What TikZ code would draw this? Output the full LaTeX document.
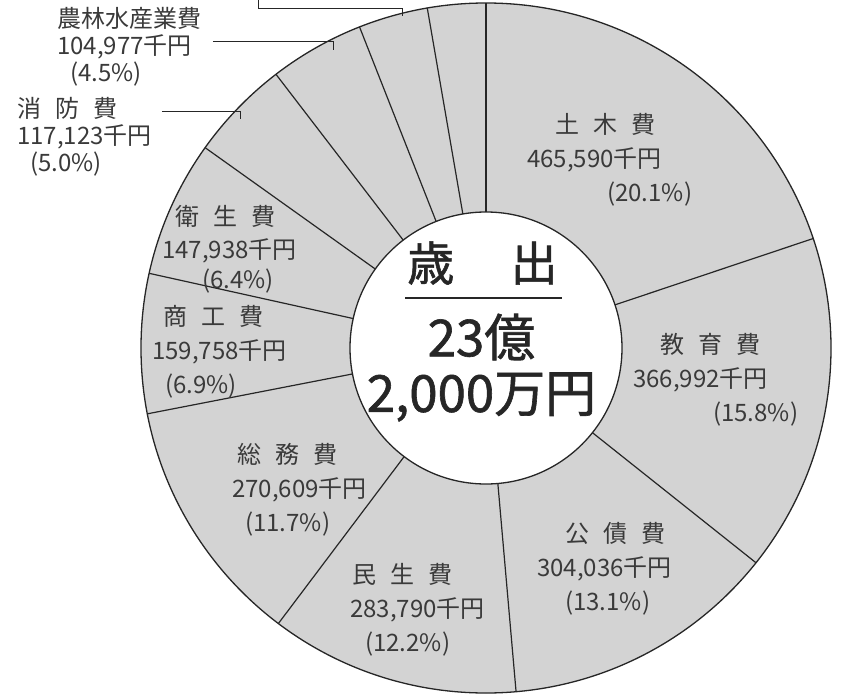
\documentclass[tikz,border=0pt]{standalone}
\usepackage{fontspec}
\setmainfont{Noto Sans CJK JP}[WordSpace=2.6]
\newfontfamily\centerfont{Noto Sans CJK JP}[FakeBold=1.2]
\definecolor{ringfill}{RGB}{211,211,211}
\definecolor{labelink}{RGB}{58,58,58}
\begin{document}
\begin{tikzpicture}[x=1pt,y=1pt,
  slicetext/.style={anchor=north west,inner sep=0pt,align=left,text=labelink,font=\fontsize{24}{34}\selectfont},
  sidetext/.style={slicetext,font=\fontsize{24}{27}\selectfont},
  bigtext/.style={inner sep=0pt,text=black!85,font=\centerfont\fontsize{51}{51}\selectfont},
  leader/.style={line width=1pt,black!85}]

\useasboundingbox (-486,-348) rectangle (372,348);

\fill[ringfill] (0,0) circle (345pt);
\fill[white] (0,0) circle (136pt);
\foreach \a in {90,18.5,-38.5,-85,-127,-169,167.5,144.5,127.5,111.5,99.8}
  \draw[line width=1.2pt,black!85] (\a:136pt) -- (\a:345pt);
\draw[line width=1.3pt,black!85] (0,0) circle (345pt);
\draw[line width=1.3pt,black!85] (0,0) circle (136pt);

\node[bigtext,font=\centerfont\fontsize{47}{47}\selectfont] (title) at (-3.5,85) {歳\hspace{1.2em}出};
\draw[line width=1.3pt,black!85] (-81,50) -- (76,50);
\node[bigtext] (oku) at (-4.5,11) {23億};
\node[bigtext] (man) at (-4.5,-49) {2,000万円};

\node[slicetext] (doboku) at (41,235) {\hspace*{28pt}土 木 費\\465,590千円\\\hspace*{80pt}(20.1\%)};
\node[slicetext] (kyoiku) at (147,15) {\hspace*{27pt}教 育 費\\366,992千円\\\hspace*{80pt}(15.8\%)};
\node[slicetext] (kosai) at (51,-174) {\hspace*{28pt}公 債 費\\304,036千円\\\hspace*{28pt}(13.1\%)};
\node[slicetext] (minsei) at (-136,-215) {\hspace*{2pt}民 生 費\\283,790千円\\\hspace*{15pt}(12.2\%)};
\node[slicetext] (somu) at (-254,-95) {\hspace*{5pt}総 務 費\\270,609千円\\\hspace*{13pt}(11.7\%)};
\node[slicetext] (shoko) at (-334,43) {\hspace*{11pt}商 工 費\\159,758千円\\\hspace*{13pt}(6.9\%)};
\node[slicetext] (eisei) at (-324,143) {\hspace*{13pt}衛 生 費\\[-1pt]147,938千円\\[-4pt]\hspace*{40pt}(6.4\%)};
\node[sidetext] (shobo) at (-469,251) {消 防 費\\117,123千円\\\hspace*{13pt}(5.0\%)};
\node[sidetext] (nourin) at (-429,341) {農林水産業費\\104,977千円\\\hspace*{13pt}(4.5\%)};

\coordinate (top-a) at (-227,348);
\coordinate (top-b) at (-227,339);
\coordinate (top-c) at (-84,339);
\coordinate (top-d) at (-84,332);
\draw[leader] (top-a) -- (top-b) -- (top-c) -- (top-d);

\coordinate (nourin-a) at (-273,306);
\coordinate (nourin-b) at (-152,306);
\coordinate (nourin-c) at (-152,298);
\draw[leader] (nourin-a) -- (nourin-b) -- (nourin-c);

\coordinate (shobo-a) at (-324,236);
\coordinate (shobo-b) at (-245,236);
\coordinate (shobo-c) at (-245,229);
\draw[leader] (shobo-a) -- (shobo-b) -- (shobo-c);
\end{tikzpicture}
\end{document}
